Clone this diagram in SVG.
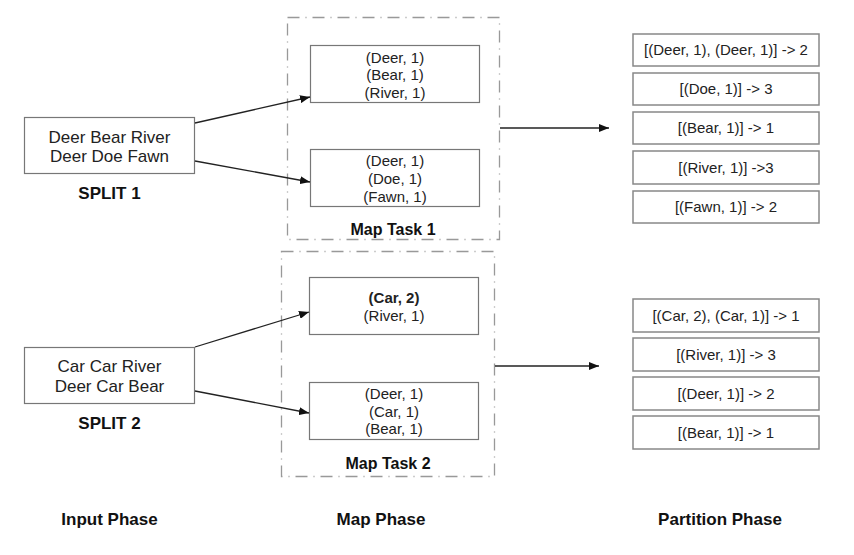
<svg xmlns="http://www.w3.org/2000/svg" width="854" height="555" viewBox="0 0 854 555">
<defs>
<marker id="ah" viewBox="0 0 10 8" refX="10" refY="4" markerWidth="10" markerHeight="8" markerUnits="userSpaceOnUse" orient="auto">
<path d="M0,0 L10,4 L0,8 Z" fill="#111"/>
</marker>
</defs>
<style>
.bg{fill:#fff}
.box{fill:#fff;stroke:#777;stroke-width:1.2}
.pbox{fill:#fff;stroke:#888;stroke-width:1.5}
.task{fill:none;stroke:#999;stroke-width:1.3;stroke-dasharray:12 6 1 6}
.t{font-family:"Liberation Sans",Arial,sans-serif;font-size:15px;fill:#222;text-anchor:middle}
.big{font-family:"Liberation Sans",Arial,sans-serif;font-size:17px;fill:#222;text-anchor:middle}
.lbl{font-family:"Liberation Sans",Arial,sans-serif;font-size:17px;font-weight:bold;fill:#111;text-anchor:middle}
.tl{font-family:"Liberation Sans",Arial,sans-serif;font-size:16px;font-weight:bold;fill:#111;text-anchor:middle}
.b{font-weight:bold}
.c{fill:none;stroke:#222;stroke-width:1.3;marker-end:url(#ah)}
</style>
<rect class="bg" x="0" y="0" width="854" height="555"/>

<g id="maptask1">
<rect class="task" x="287.5" y="17.5" width="212" height="222"/>
<text class="tl" x="393" y="235">Map Task 1</text>
</g>
<g id="maptask2">
<rect class="task" x="281.5" y="251.5" width="213" height="225"/>
<text class="tl" x="388" y="469">Map Task 2</text>
</g>

<g id="split1">
<rect class="box" x="24.5" y="117.5" width="170" height="56"/>
<text class="big" x="109.5" y="143">Deer Bear River</text>
<text class="big" x="109.5" y="162">Deer Doe Fawn</text>
<text class="lbl" x="109.5" y="199">SPLIT 1</text>
</g>
<g id="split2">
<rect class="box" x="24.5" y="347.5" width="170" height="56"/>
<text class="big" x="109.5" y="372">Car Car River</text>
<text class="big" x="109.5" y="392">Deer Car Bear</text>
<text class="lbl" x="109.5" y="429">SPLIT 2</text>
</g>

<g id="map1a">
<rect class="box" x="310.5" y="45.5" width="169" height="57"/>
<text class="t" x="395" y="62.5">(Deer, 1)</text>
<text class="t" x="395" y="80">(Bear, 1)</text>
<text class="t" x="395" y="97.5">(River, 1)</text>
</g>
<g id="map1b">
<rect class="box" x="310.5" y="149.5" width="169" height="57"/>
<text class="t" x="395" y="165.5">(Deer, 1)</text>
<text class="t" x="395" y="183.5">(Doe, 1)</text>
<text class="t" x="395" y="202">(Fawn, 1)</text>
</g>
<g id="map2a">
<rect class="box" x="309.5" y="277.5" width="169" height="57"/>
<text class="t b" x="394" y="302.5">(Car, 2)</text>
<text class="t" x="394" y="320.5">(River, 1)</text>
</g>
<g id="map2b">
<rect class="box" x="309.5" y="382.5" width="169" height="57"/>
<text class="t" x="394" y="398.5">(Deer, 1)</text>
<text class="t" x="394" y="416.5">(Car, 1)</text>
<text class="t" x="394" y="434">(Bear, 1)</text>
</g>

<g id="part1">
<rect class="pbox" x="633" y="34" width="186" height="32"/><text class="t" x="726" y="55.4">[(Deer, 1), (Deer, 1)] -&gt; 2</text>
<rect class="pbox" x="633" y="73" width="186" height="32"/><text class="t" x="726" y="94.4">[(Doe, 1)] -&gt; 3</text>
<rect class="pbox" x="633" y="112" width="186" height="32"/><text class="t" x="726" y="133.4">[(Bear, 1)] -&gt; 1</text>
<rect class="pbox" x="633" y="151" width="186" height="33"/><text class="t" x="726" y="172.9">[(River, 1)] -&gt;3</text>
<rect class="pbox" x="633" y="191" width="186" height="32"/><text class="t" x="726" y="212.4">[(Fawn, 1)] -&gt; 2</text>
</g>
<g id="part2">
<rect class="pbox" x="633" y="299" width="186" height="33"/><text class="t" x="726" y="320.9">[(Car, 2), (Car, 1)] -&gt; 1</text>
<rect class="pbox" x="633" y="338" width="186" height="33"/><text class="t" x="726" y="359.9">[(River, 1)] -&gt; 3</text>
<rect class="pbox" x="633" y="377" width="186" height="33"/><text class="t" x="726" y="398.9">[(Deer, 1)] -&gt; 2</text>
<rect class="pbox" x="633" y="416" width="186" height="33"/><text class="t" x="726" y="437.9">[(Bear, 1)] -&gt; 1</text>
</g>

<g id="phases">
<text class="lbl" x="109.5" y="525">Input Phase</text>
<text class="lbl" x="381" y="525">Map Phase</text>
<text class="lbl" x="720" y="525">Partition Phase</text>
</g>

<g id="connectors">
<line class="c" x1="195" y1="123" x2="310" y2="97"/>
<line class="c" x1="195" y1="161" x2="310" y2="182"/>
<line class="c" x1="195" y1="347" x2="309" y2="312"/>
<line class="c" x1="195" y1="391" x2="309" y2="413"/>
<line class="c" x1="500" y1="128" x2="609" y2="128"/>
<line class="c" x1="495" y1="366" x2="599" y2="366"/>
</g>
</svg>
